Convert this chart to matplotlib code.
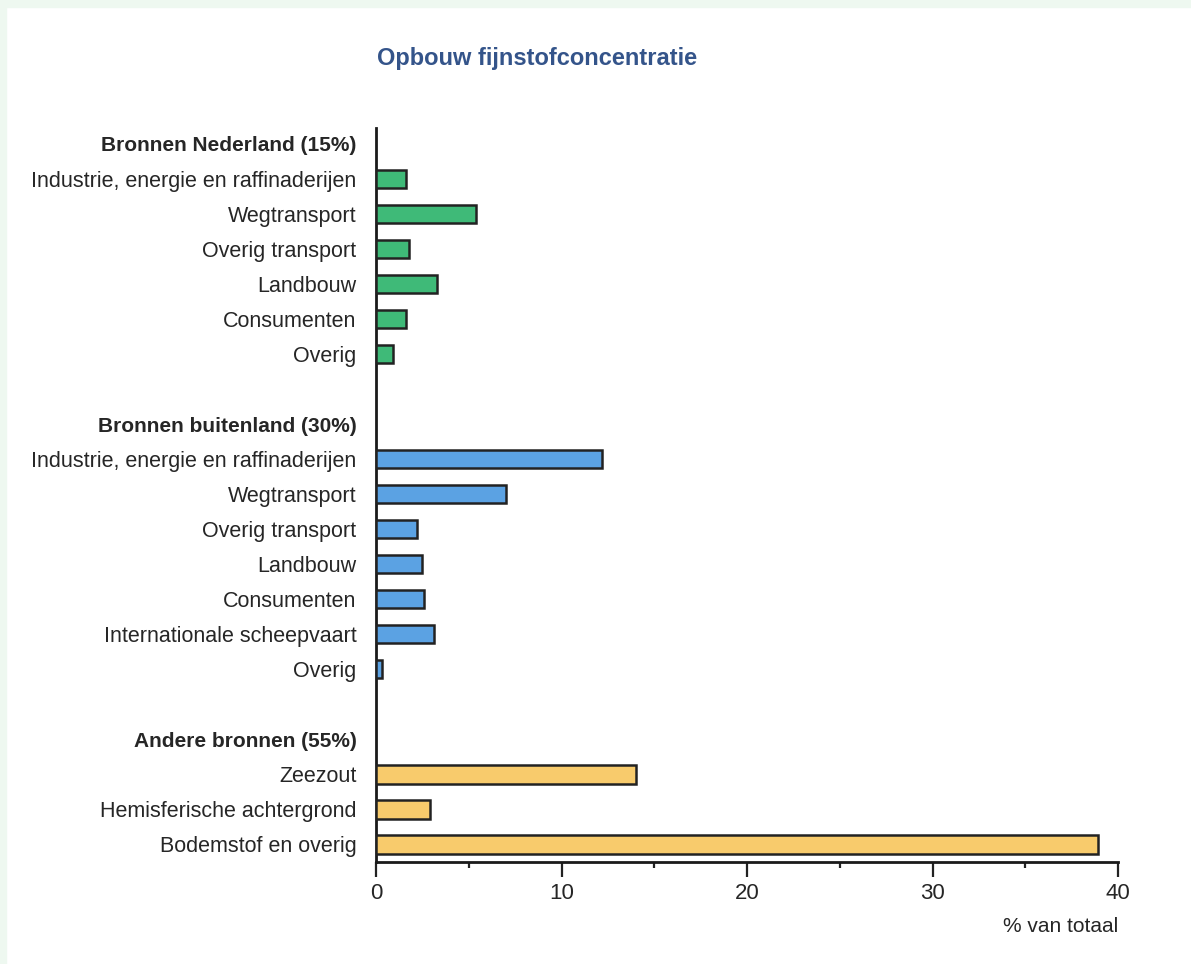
import matplotlib
matplotlib.use("Agg")
import matplotlib.pyplot as plt
from matplotlib.patches import Rectangle
from matplotlib import font_manager

# ---- data ----
groups = ["Bronnen Nederland (15%)", "Bronnen buitenland (30%)", "Andere bronnen (55%)"]
nl_labels = ["Industrie, energie en raffinaderijen", "Wegtransport", "Overig transport",
             "Landbouw", "Consumenten", "Overig"]
nl_values = [1.6, 5.4, 1.8, 3.3, 1.6, 0.9]
bl_labels = ["Industrie, energie en raffinaderijen", "Wegtransport", "Overig transport",
             "Landbouw", "Consumenten", "Internationale scheepvaart", "Overig"]
bl_values = [12.2, 7.0, 2.2, 2.5, 2.6, 3.1, 0.3]
ot_labels = ["Zeezout", "Hemisferische achtergrond", "Bodemstof en overig"]
ot_values = [14.0, 2.9, 38.9]
x_ticks = [0, 10, 20, 30, 40]
x_minor = [5, 15, 25, 35]

colors = ["#3fba78", "#5ba2e3", "#f8cb6c"]

names = {f.name for f in font_manager.fontManager.ttflist}
narrow = "Liberation Sans Narrow" if "Liberation Sans Narrow" in names else "Liberation Sans"

fig = plt.figure(figsize=(11.91, 9.64), dpi=100)
fig.patch.set_facecolor("white")
# mint border strips (left and top)
fig.add_artist(Rectangle((0, 0), 6 / 1191, 1, transform=fig.transFigure, color="#eef8f0", zorder=0))
fig.add_artist(Rectangle((0, 1 - 7 / 964), 1, 7 / 964, transform=fig.transFigure, color="#eef8f0", zorder=0))

ax = fig.add_axes([376 / 1191, 1 - 862 / 964, (1118 - 376) / 1191, (862 - 128) / 964])

txt_color = "#262626"
ylabels = []
pos = 0
for gi, (g, labs, vals) in enumerate(zip(groups, [nl_labels, bl_labels, ot_labels],
                                         [nl_values, bl_values, ot_values])):
    ylabels.append((pos, g, True))
    pos += 1
    ys = list(range(pos, pos + len(vals)))
    ax.barh(ys, vals, height=0.52, color=colors[gi], edgecolor="#222222", linewidth=1.8, zorder=3)
    for y, l in zip(ys, labs):
        ylabels.append((y, l, False))
    pos += len(vals) + 1

ax.set_ylim(20.5, -0.45)
ax.set_xlim(0, 40)
ax.set_yticks([p for p, _, _ in ylabels])
ax.set_yticklabels([l for _, l, _ in ylabels])
for t, (_, _, b) in zip(ax.get_yticklabels(), ylabels):
    if b:
        t.set_fontfamily("Liberation Sans")
        t.set_fontweight("bold")
        t.set_fontsize(15)
    else:
        t.set_fontfamily(narrow)
        t.set_fontsize(15.5)
    t.set_color(txt_color)
ax.tick_params(axis="y", length=0, pad=14)

ax.set_xticks(x_ticks)
ax.set_xticks(x_minor, minor=True)
ax.set_xticklabels([str(v) for v in x_ticks], fontfamily=narrow, fontsize=16, color=txt_color)
ax.tick_params(axis="x", which="major", length=11, width=1.6, direction="out", pad=4, color="#222222")
ax.tick_params(axis="x", which="minor", length=4.5, width=1.6, direction="out", color="#222222")

for s in ["top", "right"]:
    ax.spines[s].set_visible(False)
for s in ["left", "bottom"]:
    ax.spines[s].set_linewidth(2)
    ax.spines[s].set_color("#1a1a1a")

fig.text(537 / 1191, 1 - 58 / 964, "Opbouw fijnstofconcentratie", ha="center", va="center",
         fontsize=17, fontweight="bold", color="#34548a", fontfamily=narrow)
fig.text(1118 / 1191, 1 - 926 / 964, "% van totaal", ha="right", va="center",
         fontsize=15, color=txt_color, fontfamily=narrow)

fig.savefig("out.png", dpi=100, facecolor=fig.get_facecolor())
